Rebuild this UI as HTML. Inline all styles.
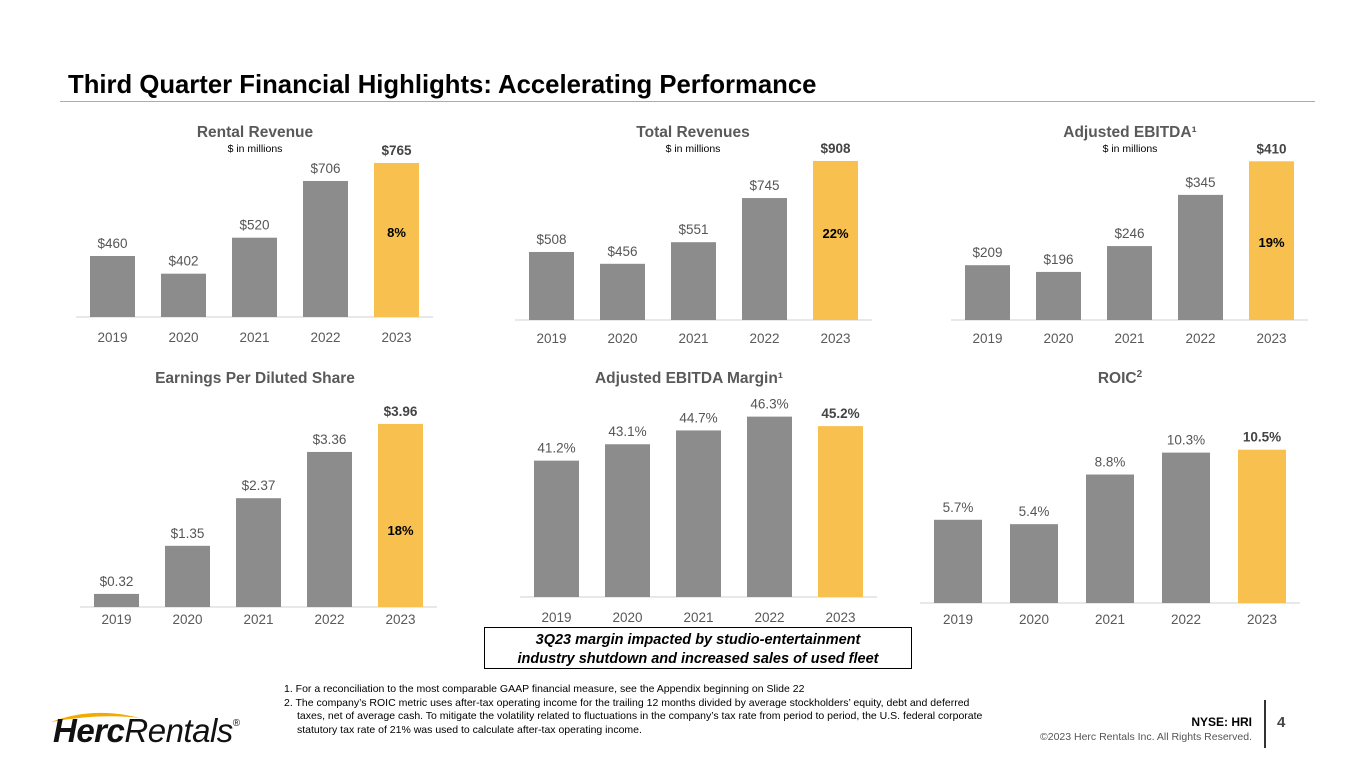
<!DOCTYPE html>
<html><head><meta charset="utf-8"><style>
body{margin:0;width:1365px;height:769px;background:#fff;font-family:"Liberation Sans",sans-serif;overflow:hidden;position:relative}
.abs{position:absolute}
</style></head><body>
<div class="abs" style="left:68px;top:71px;font-size:25.7px;font-weight:bold;color:#000">Third Quarter Financial Highlights: Accelerating Performance</div>
<div class="abs" style="left:60px;top:101px;width:1255px;height:1px;background:#F2A900"></div>
<svg id="charts" class="abs" style="left:0;top:0" width="1365" height="769"></svg>
<div class="abs" style="left:484px;top:627px;width:428px;height:42px;border:1px solid #000;font-size:14.5px;font-weight:bold;font-style:italic;text-align:center;line-height:19px;padding-top:3px;box-sizing:border-box">3Q23 margin impacted by studio-entertainment<br>industry shutdown and increased sales of used fleet</div>
<div class="abs" style="left:284px;top:683px;width:705px;font-size:10.5px;line-height:13.5px;color:#000">
<div>1. For a reconciliation to the most comparable GAAP financial measure, see the Appendix beginning on Slide 22</div>
<div style="padding-left:13px;text-indent:-13px">2. The company’s ROIC metric uses after-tax operating income for the trailing 12 months divided by average stockholders’ equity, debt and deferred taxes, net of average cash. To mitigate the volatility related to fluctuations in the company’s tax rate from period to period, the U.S. federal corporate statutory tax rate of 21% was used to calculate after-tax operating income.</div></div>
<div class="abs" style="left:48px;top:708px;width:200px;height:40px">
<svg class="abs" style="left:0;top:0" width="100" height="16"><path d="M3 14 Q45 -2 92 10 Q50 5 3 14Z" fill="#F2A900"/></svg>
<div class="abs" style="left:5px;top:4px;font-size:33px;font-style:italic;color:#111;white-space:nowrap;letter-spacing:-0.5px"><b>Herc</b>Rentals<sup style="font-size:10px;font-style:normal;vertical-align:16px">®</sup></div></div>
<div class="abs" style="right:113px;top:715px;font-size:12px;font-weight:bold">NYSE: HRI</div>
<div class="abs" style="right:113px;top:731px;font-size:10.5px;color:#555">©2023 Herc Rentals Inc.  All Rights Reserved.</div>
<div class="abs" style="left:1264px;top:700px;width:2px;height:48px;background:#333"></div>
<div class="abs" style="left:1277px;top:714px;font-size:15px;font-weight:bold;color:#444">4</div>
<script>
const years=["2019","2020","2021","2022","2023"];
const rentalRevenue=[460,402,520,706,765];
const totalRevenues=[508,456,551,745,908];
const adjEbitda=[209,196,246,345,410];
const eps=[0.32,1.35,2.37,3.36,3.96];
const ebitdaMargin=[41.2,43.1,44.7,46.3,45.2];
const roic=[5.7,5.4,8.8,10.3,10.5];
const rentalLabels=["$460","$402","$520","$706","$765"];
const totalLabels=["$508","$456","$551","$745","$908"];
const ebitdaLabels=["$209","$196","$246","$345","$410"];
const epsLabels=["$0.32","$1.35","$2.37","$3.36","$3.96"];
const marginLabels=["41.2%","43.1%","44.7%","46.3%","45.2%"];
const roicLabels=["5.7%","5.4%","8.8%","10.3%","10.5%"];
const growth=["8%","22%","19%","18%"];
const svg=document.getElementById('charts');
const NS="http://www.w3.org/2000/svg";
function el(t,a){const e=document.createElementNS(NS,t);for(const k in a)e.setAttribute(k,a[k]);svg.appendChild(e);return e;}
function txt(x,y,s,size,color,bold,name){const t=el('text',{x:x,y:y,'text-anchor':'middle','font-size':size,fill:color,'font-family':'Liberation Sans, sans-serif','font-weight':bold?'bold':'normal'});t.textContent=s;


return t;}
function chart(o){
 const {vals,labels,x0,step,bw,base,vmin,ppu,title,tx,ty,sub,yearY,pct,pctY,name,tsup}=o;
 const y=v=>base-(v-vmin)*ppu;
 el('line',{x1:x0-14,x2:x0+4*step+bw+14,y1:base,y2:base,stroke:'#d0d0d0','stroke-width':1});
 vals.forEach((v,i)=>{const last=i===4;const bx=x0+i*step;
  const r=el('rect',{x:bx,y:y(v),width:bw,height:base-y(v),fill:last?'#F7C04F':'#8C8C8C'});
  
  
  txt(bx+bw/2,y(v)-8,labels[i],13.5,last?'#444':'#555',last,name+'-value-'+years[i]);
  txt(bx+bw/2,yearY,years[i],13.5,'#595959',false,name+'-year-'+years[i]);});
 const t=txt(tx,ty,title,15.5,'#595959',true,name+'-title');
 if(tsup){const s=document.createElementNS(NS,'tspan');s.setAttribute('font-size','10');s.setAttribute('dy','-6');s.textContent=tsup;t.appendChild(s);}
 if(sub)txt(tx,ty+15,'$ in millions',10.5,'#000',false,name+'-units');
 if(pct)txt(x0+4*step+bw/2,pctY,pct,13,'#000',true,name+'-growth');
}
chart({vals:rentalRevenue,labels:rentalLabels,x0:90,step:71,bw:45,base:317,vmin:260,ppu:0.305,title:'Rental Revenue',tx:255,ty:137,sub:1,yearY:342,pct:growth[0],pctY:237,name:'rental-revenue'});
chart({vals:totalRevenues,labels:totalLabels,x0:529,step:71,bw:45,base:320,vmin:209,ppu:0.2275,title:'Total Revenues',tx:693,ty:137,sub:1,yearY:343,pct:growth[1],pctY:238,name:'total-revenues'});
chart({vals:adjEbitda,labels:ebitdaLabels,x0:965,step:71,bw:45,base:320,vmin:103,ppu:0.517,title:'Adjusted EBITDA¹',tx:1130,ty:137,sub:1,yearY:343,pct:growth[2],pctY:247,name:'adjusted-ebitda'});
chart({vals:eps,labels:epsLabels,x0:94,step:71,bw:45,base:607,vmin:0.04,ppu:46.7,title:'Earnings Per Diluted Share',tx:255,ty:383,yearY:624,pct:growth[3],pctY:535,name:'eps'});
chart({vals:ebitdaMargin,labels:marginLabels,x0:534,step:71,bw:45,base:597,vmin:25.4,ppu:8.63,title:'Adjusted EBITDA Margin¹',tx:689,ty:383,yearY:622,name:'ebitda-margin'});
chart({vals:roic,labels:roicLabels,x0:934,step:76,bw:48,base:603,vmin:0,ppu:14.6,title:'ROIC',tsup:'2',tx:1120,ty:383,yearY:624,name:'roic'});
</script>
</body></html>
